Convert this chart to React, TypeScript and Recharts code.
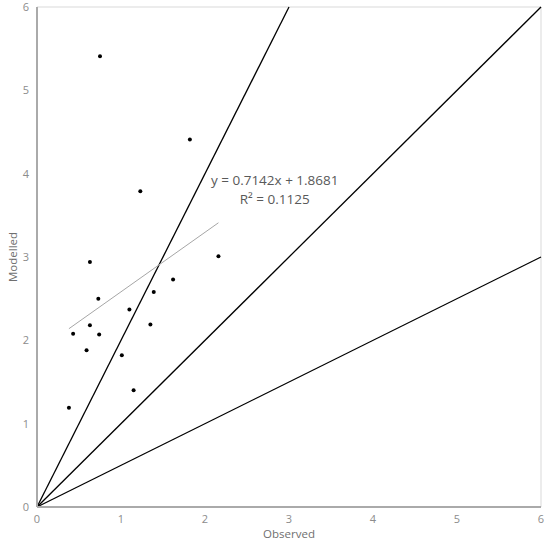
import React from "react";
import {
  ScatterChart,
  Scatter,
  XAxis,
  YAxis,
  ReferenceLine,
  ReferenceDot,
} from "recharts";

const observed = [
  0.75, 1.82, 1.23, 0.63, 2.16, 1.62, 1.39, 0.73, 1.1, 0.63, 1.35, 0.43, 0.74,
  0.59, 1.01, 1.15, 0.38,
];
const modelled = [
  5.41, 4.41, 3.79, 2.94, 3.01, 2.73, 2.58, 2.5, 2.37, 2.18, 2.19, 2.08, 2.07,
  1.88, 1.82, 1.4, 1.19,
];
const ticks = [0, 1, 2, 3, 4, 5, 6];
const guideSlopes = [2, 1, 0.5];
const trendSlope = 0.7142;
const trendIntercept = 1.8681;
const equationText = "y = 0.7142x + 1.8681";
const r2Text = "R² = 0.1125";

const points = observed.map((x, i) => ({ x, y: modelled[i] }));
const xMin = Math.min(...observed);
const xMax = Math.max(...observed);
const trendData = [
  { x: xMin, y: trendSlope * xMin + trendIntercept },
  { x: xMax, y: trendSlope * xMax + trendIntercept },
];

const tickStyle = { fontSize: 11, fill: "#8c8c8c", fontFamily: "Open Sans" };

function Dot(props: any) {
  return <circle cx={props.cx} cy={props.cy} r={2} fill="#000" />;
}

function eqLabel(text: string) {
  return (props: any) => {
    const { viewBox } = props;
    const cx = viewBox.x + viewBox.width / 2;
    const cy = viewBox.y + viewBox.height / 2;
    return (
      <text
        x={cx}
        y={cy}
        textAnchor="middle"
        dominantBaseline="central"
        fontSize={13.5}
        fontFamily="Open Sans"
        fill="#595959"
      >
        {text}
      </text>
    );
  };
}

export default function App() {
  return (
    <div style={{ position: "absolute", left: 0, top: 0, background: "#fff" }}>
      <ScatterChart
        width={550}
        height={543}
        margin={{ top: 7, right: 9, bottom: 0, left: 7 }}
      >
        <XAxis
          type="number"
          dataKey="x"
          domain={[0, 6]}
          ticks={ticks}
          tickLine={false}
          axisLine={{ stroke: "#aaaaaa", strokeWidth: 2 }}
          tick={tickStyle}
          height={36}
          label={{
            value: "Observed",
            position: "insideBottom",
            offset: 5,
            style: { fontSize: 11.5, fill: "#6f6f6f", fontFamily: "Open Sans" },
          }}
        />
        <YAxis
          type="number"
          dataKey="y"
          domain={[0, 6]}
          ticks={ticks}
          tickLine={false}
          axisLine={{ stroke: "#aaaaaa", strokeWidth: 2 }}
          tick={tickStyle}
          width={30}
          label={{
            value: "Modelled",
            angle: -90,
            position: "insideLeft",
            offset: 6,
            style: {
              fontSize: 11.5,
              fill: "#6f6f6f",
              fontFamily: "Open Sans",
              textAnchor: "middle",
            },
          }}
        />
        <ReferenceLine y={6} stroke="#d9d9d9" strokeWidth={1} />
        <ReferenceLine x={6} stroke="#d9d9d9" strokeWidth={1} />
        {guideSlopes.map((s) => {
          const xe = Math.min(6, 6 / s);
          return (
            <ReferenceLine
              key={s}
              segment={[
                { x: 0, y: 0 },
                { x: xe, y: s * xe },
              ]}
              stroke="#000"
              strokeWidth={1.3}
            />
          );
        })}
        <Scatter
          data={trendData}
          line={{ stroke: "#a6a6a6", strokeWidth: 1 }}
          shape={() => null}
          isAnimationActive={false}
        />
        <Scatter data={points} shape={Dot} isAnimationActive={false} />
        <ReferenceDot
          x={2.83}
          y={3.92}
          r={0}
          stroke="none"
          label={eqLabel(equationText)}
        />
        <ReferenceDot
          x={2.83}
          y={3.7}
          r={0}
          stroke="none"
          label={eqLabel(r2Text)}
        />
      </ScatterChart>
    </div>
  );
}
